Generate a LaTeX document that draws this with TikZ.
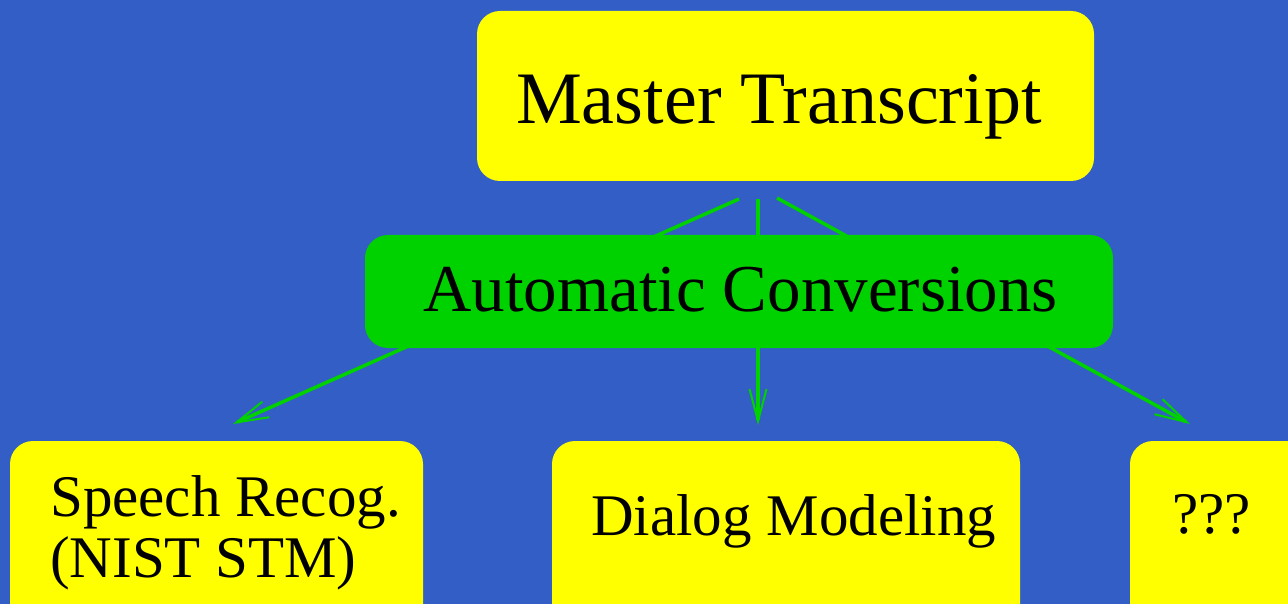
\documentclass[tikz,border=0pt]{standalone}
\usepackage{fontspec}
\setmainfont{Liberation Serif}
\usetikzlibrary{arrows.meta}

\definecolor{slideblue}{HTML}{335EC5}
\definecolor{boxyellow}{HTML}{FFFF00}
\definecolor{convgreen}{HTML}{00D200}

\tikzset{
  box/.style={rectangle, rounded corners=23pt, inner sep=0pt, draw=none},
  ybox/.style={box, fill=boxyellow},
  gbox/.style={box, fill=convgreen},
  label/.style={inner sep=0pt, text=black},
  conv/.style={draw=convgreen, line width=3.5pt,
    -{Straight Barb[length=32pt,width=17pt,line width=2pt]}},
}

\begin{document}
\begin{tikzpicture}[x=1pt, y=-1pt]
  % page and background
  \useasboundingbox (0,0) rectangle (1288,604);
  \clip (0,0) rectangle (1288,604);
  \fill[slideblue] (0,0) rectangle (1288,604);

  % source box
  \node[ybox, minimum width=617pt, minimum height=170pt] (master) at (785.5,96) {};
  \node[label, anchor=base west] (mastertxt) at (516,124)
    {\fontsize{74}{74}\selectfont Master Transcript};

  % target boxes
  \node[ybox, minimum width=413pt, minimum height=220pt] (speech) at (216.5,551) {};
  \node[label, anchor=base west] (speechtxt1) at (50,516)
    {\fontsize{59}{61}\selectfont Speech Recog.};
  \node[label, anchor=base west] (speechtxt2) at (50,577)
    {\fontsize{59}{61}\selectfont (NIST STM)};

  \node[ybox, minimum width=468pt, minimum height=220pt] (dialog) at (786,551) {};
  \node[label, anchor=base west] (dialogtxt) at (591,535)
    {\fontsize{59}{61}\selectfont Dialog Modeling};

  \node[ybox, minimum width=230pt, minimum height=220pt] (other) at (1245,551) {};
  \node[label, anchor=base west] (othertxt) at (1172,533)
    {\fontsize{59}{61}\selectfont ???};

  % connector end points
  \coordinate (m1) at (739,199);
  \coordinate (m2) at (758,199);
  \coordinate (m3) at (777,198);
  \coordinate (t1) at (233,424);
  \coordinate (t2) at (758,425);
  \coordinate (t3) at (1190,424);

  % conversion arrows, passing under the green box
  \draw[conv] (m1) -- (t1);
  \draw[conv] (m2) -- (t2);
  \draw[conv] (m3) -- (t3);

  % conversion step
  \node[gbox, minimum width=748pt, minimum height=113pt] (auto) at (739,291.5) {};
  \node[label, anchor=base west] (autotxt) at (423,311)
    {\fontsize{67}{67}\selectfont Automatic Conversions};
\end{tikzpicture}
\end{document}
